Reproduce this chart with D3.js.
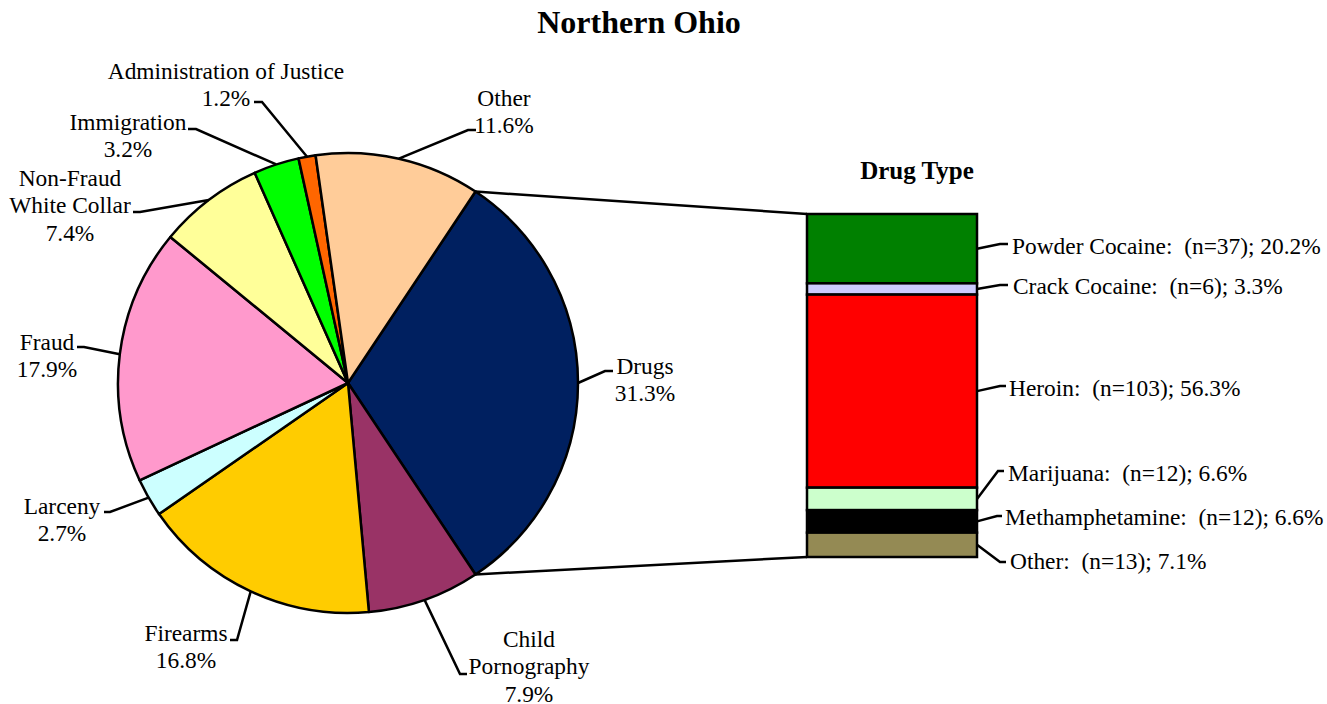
<!DOCTYPE html>
<html>
<head>
<meta charset="utf-8">
<script src="https://cdn.jsdelivr.net/npm/d3@7"></script>
<style>
  body { margin: 0; background: #fff; }
  text { font-family: "Liberation Serif", "Times New Roman", serif; fill: #000; }
</style>
</head>
<body>
<div id="chart"></div>
<script>
// offence categories, clockwise from the Drugs slice
const categories = ["Drugs", "Child Pornography", "Firearms", "Larceny", "Fraud",
    "Non-Fraud White Collar", "Immigration", "Administration of Justice", "Other"];
const percents = [31.3, 7.9, 16.8, 2.7, 17.9, 7.4, 3.2, 1.2, 11.6];
const labelLines = [["Drugs"], ["Child", "Pornography"], ["Firearms"], ["Larceny"], ["Fraud"],
    ["Non-Fraud", "White Collar"], ["Immigration"], ["Administration of Justice"], ["Other"]];
const sliceColors = ["#002060", "#993366", "#FFCC00", "#CCFFFF", "#FF99CC",
    "#FFFF99", "#00FF00", "#FF6600", "#FFCC99"];

// drug type breakdown (top to bottom)
const drugTypes = ["Powder Cocaine", "Crack Cocaine", "Heroin", "Marijuana", "Methamphetamine", "Other"];
const drugCounts = [37, 6, 103, 12, 12, 13];
const drugPercents = [20.2, 3.3, 56.3, 6.6, 6.6, 7.1];
const drugColors = ["#008000", "#CCCCFF", "#FF0000", "#CCFFCC", "#000000", "#948A54"];

const width = 1327, height = 704;
const cx = 348, cy = 383, radius = 230;

// where each pie label sits: text centre x, first line centre y, elbow of the leader
const pieLabelPos = [
    { x: 645, y: 366, elbow: [605, 371], end: [613, 371] },
    { x: 529, y: 639, elbow: [460, 674], end: [467, 674] },
    { x: 186, y: 633, elbow: [237, 640], end: [230, 640] },
    { x: 62, y: 506, elbow: [110, 512], end: [104, 512] },
    { x: 47, y: 342, elbow: [84, 347], end: [77, 347] },
    { x: 70, y: 178, elbow: [140, 212], end: [133, 212] },
    { x: 128, y: 122, elbow: [196, 129], end: [188, 129] },
    { x: 226, y: 71, elbow: [262, 102], end: [254, 102] },
    { x: 504, y: 98, elbow: [468, 130], end: [476, 130] }
];
const drugLabelPos = [
    { x: 1012, y: 246, elbow: [1000, 244], end: [1008, 244] },
    { x: 1013, y: 286, elbow: [1000, 285], end: [1008, 285] },
    { x: 1009, y: 388, elbow: [1000, 386], end: [1006, 386] },
    { x: 1008, y: 473, elbow: [998, 471], end: [1004, 471] },
    { x: 1005, y: 517, elbow: [997, 516], end: [1002, 516] },
    { x: 1010, y: 561, elbow: [1000, 562], end: [1006, 562] }
];

const fontSize = 23.4, lineH = 27.2;

const svg = d3.select("#chart").append("svg")
    .attr("width", width)
    .attr("height", height);

svg.append("text")
    .attr("x", 639).attr("y", 33)
    .attr("text-anchor", "middle")
    .style("font-size", "32px").style("font-weight", "bold")
    .text("Northern Ohio");

// pie, Drugs slice centred on 3 o'clock
const drugAngle = percents[0] / 100 * 2 * Math.PI;
const start = Math.PI / 2 - drugAngle / 2;
const pie = d3.pie().sort(null).value(d => d)
    .startAngle(start).endAngle(start + 2 * Math.PI);
const arcs = pie(percents);
const arc = d3.arc().innerRadius(0).outerRadius(radius);

const g = svg.append("g").attr("transform", `translate(${cx},${cy})`);

g.selectAll("path.slice")
    .data(arcs)
    .enter().append("path")
    .attr("class", "slice")
    .attr("d", arc)
    .attr("fill", (d, i) => sliceColors[i])
    .attr("stroke", "#000")
    .attr("stroke-width", 2.5)
    .attr("stroke-linejoin", "round");

// point on the rim at a given angle, in page coords
function rim(a) {
    return [cx + radius * Math.sin(a), cy - radius * Math.cos(a)];
}

const line = d3.line();

// pie leader lines
svg.append("g").selectAll("path")
    .data(arcs)
    .enter().append("path")
    .attr("d", (d, i) => {
        const p = pieLabelPos[i];
        return line([rim((d.startAngle + d.endAngle) / 2), p.elbow, p.end]);
    })
    .attr("fill", "none")
    .attr("stroke", "#000")
    .attr("stroke-width", 2.5);

// pie labels
const pieLabels = svg.append("g").selectAll("text")
    .data(arcs)
    .enter().append("text")
    .attr("text-anchor", "middle")
    .style("font-size", fontSize + "px");

pieLabels.each(function(d, i) {
    const t = d3.select(this);
    const p = pieLabelPos[i];
    const lines = labelLines[i].concat([percents[i].toFixed(1) + "%"]);
    lines.forEach((s, k) => {
        t.append("tspan")
            .attr("x", p.x)
            .attr("y", p.y + k * lineH)
            .attr("dy", "0.35em")
            .text(s);
    });
});

// stacked drug bar
const barX = 807, barW = 170, barTop = 214, barBottom = 557;
const total = d3.sum(drugCounts);
const y = d3.scaleLinear().domain([0, total]).range([barTop, barBottom]);
const cum = d3.cumsum(drugCounts);
const stack = drugCounts.map((n, i) => ({ y0: cum[i] - n, y1: cum[i], i }));

// connectors from the Drugs slice to the bar
const dArc = arcs[0];
svg.append("path")
    .attr("d", line([rim(dArc.startAngle), [barX, barTop]]))
    .attr("stroke", "#000").attr("stroke-width", 2.5).attr("fill", "none");
svg.append("path")
    .attr("d", line([rim(dArc.endAngle), [barX, barBottom]]))
    .attr("stroke", "#000").attr("stroke-width", 2.5).attr("fill", "none");

svg.append("g").selectAll("rect")
    .data(stack)
    .enter().append("rect")
    .attr("x", barX)
    .attr("y", d => y(d.y0))
    .attr("width", barW)
    .attr("height", d => y(d.y1) - y(d.y0))
    .attr("fill", d => drugColors[d.i])
    .attr("stroke", "#000")
    .attr("stroke-width", 2.5);

svg.append("text")
    .attr("x", 917).attr("y", 179)
    .attr("text-anchor", "middle")
    .style("font-size", "25px").style("font-weight", "bold")
    .text("Drug Type");

// drug leader lines
svg.append("g").selectAll("path")
    .data(stack)
    .enter().append("path")
    .attr("d", d => {
        const p = drugLabelPos[d.i];
        return line([[barX + barW, (y(d.y0) + y(d.y1)) / 2], p.elbow, p.end]);
    })
    .attr("fill", "none")
    .attr("stroke", "#000")
    .attr("stroke-width", 2.5);

svg.append("g").selectAll("text")
    .data(stack)
    .enter().append("text")
    .attr("x", d => drugLabelPos[d.i].x)
    .attr("y", d => drugLabelPos[d.i].y)
    .attr("dy", "0.35em")
    .style("font-size", fontSize + "px")
    .style("white-space", "pre")
    .text(d => `${drugTypes[d.i]}:\u00a0 (n=${drugCounts[d.i]}); ${drugPercents[d.i].toFixed(1)}%`);
</script>
</body>
</html>
